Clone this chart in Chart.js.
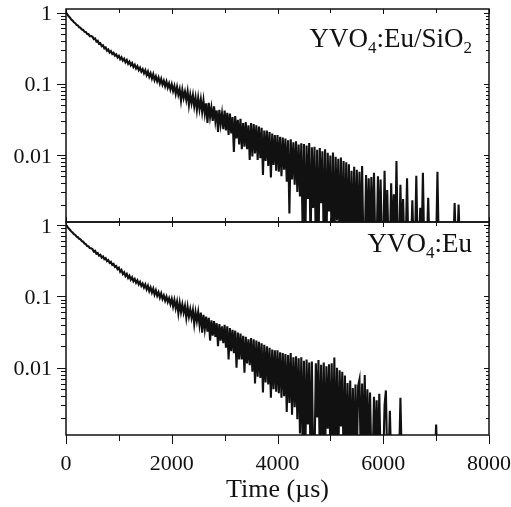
<!DOCTYPE html>
<html>
<head>
<meta charset="utf-8">
<script src="https://cdn.jsdelivr.net/npm/chart.js@4.4.1/dist/chart.umd.min.js"></script>
<style>
  html, body { margin: 0; padding: 0; background: #fff; }
  #wrap { position: relative; width: 511px; height: 507px; }
  #wrap canvas { position: absolute; left: 0; top: 0; }
</style>
</head>
<body>
<div id="wrap">
  <canvas id="topChart" width="511" height="507"></canvas>
  <canvas id="bottomChart" width="511" height="507"></canvas>
</div>
<script>
const sampleStepUs = 25;

// YVO4:Eu/SiO2, t = 0 ... 8000 µs, one row = 500 µs (5e-4 = at / below the axis floor)
const decaySiO2 = [
  1.00, 0.945, 0.885, 0.848, 0.795, 0.77, 0.728, 0.708, 0.67, 0.657, 0.62, 0.61, 0.575, 0.568, 0.535, 0.532, 0.498, 0.497, 0.466, 0.468,
  0.458, 0.423, 0.432, 0.392, 0.401, 0.364, 0.372, 0.337, 0.346, 0.313, 0.323, 0.291, 0.302, 0.274, 0.287, 0.261, 0.272, 0.247, 0.258, 0.234,
  0.247, 0.221, 0.235, 0.211, 0.224, 0.200, 0.215, 0.190, 0.204, 0.181, 0.195, 0.172, 0.185, 0.164, 0.177, 0.155, 0.168, 0.148, 0.160, 0.140,
  0.155, 0.132, 0.148, 0.125, 0.140, 0.118, 0.136, 0.112, 0.127, 0.108, 0.122, 0.101, 0.117, 0.097, 0.110, 0.092, 0.107, 0.088, 0.101, 0.083,
  0.098, 0.079, 0.093, 0.072, 0.090, 0.070, 0.084, 0.058, 0.082, 0.063, 0.077, 0.059, 0.078, 0.050, 0.070, 0.053, 0.069, 0.048, 0.064, 0.043,
  0.063, 0.044, 0.060, 0.040, 0.058, 0.038, 0.053, 0.028, 0.054, 0.034, 0.046, 0.030, 0.048, 0.030, 0.042, 0.021, 0.043, 0.027, 0.038, 0.023,
  0.042, 0.022, 0.039, 0.019, 0.038, 0.020, 0.034, 0.011, 0.035, 0.017, 0.031, 0.014, 0.032, 0.012, 0.028, 0.013, 0.029, 0.012, 0.026, 0.0085,
  0.028, 0.0095, 0.027, 0.0105, 0.026, 0.0085, 0.025, 0.0090, 0.024, 0.0052, 0.022, 0.0082, 0.022, 0.0070, 0.021, 0.0048, 0.020, 0.0072, 0.019, 0.0060,
  0.019, 0.0058, 0.018, 0.0050, 0.0175, 0.0062, 0.017, 0.0042, 0.016, 0.0015, 0.0165, 0.0045, 0.015, 0.0038, 0.0155, 0.0030, 0.014, 0.0026, 0.0145, 0.0009,
  0.0142, 5e-4, 0.0135, 0.0024, 0.0147, 5e-4, 0.0128, 0.0018, 0.0130, 5e-4, 0.0118, 5e-4, 0.0125, 0.0021, 0.0112, 5e-4, 0.0120, 5e-4, 0.0107, 0.0016,
  0.0098, 5e-4, 0.0108, 5e-4, 0.0094, 0.0012, 0.0088, 5e-4, 0.0092, 5e-4, 0.0082, 5e-4, 0.0079, 5e-4, 0.0074, 5e-4, 0.0060, 5e-4, 0.0068, 5e-4,
  0.0062, 5e-4, 0.0058, 5e-4, 0.0070, 5e-4, 5e-4, 0.0052, 5e-4, 0.0047, 5e-4, 0.0049, 5e-4, 0.0056, 5e-4, 5e-4, 0.0050, 5e-4, 0.0045, 5e-4,
  5e-4, 0.0060, 5e-4, 0.0032, 5e-4, 5e-4, 0.0040, 5e-4, 0.0028, 5e-4, 0.0082, 5e-4, 5e-4, 0.0038, 5e-4, 0.0024, 5e-4, 5e-4, 0.0047, 5e-4,
  5e-4, 5e-4, 0.0023, 5e-4, 5e-4, 0.0051, 5e-4, 5e-4, 0.0018, 5e-4, 0.0056, 5e-4, 5e-4, 5e-4, 0.0025, 5e-4, 5e-4, 5e-4, 5e-4, 5e-4,
  5e-4, 0.0058, 5e-4, 5e-4, 5e-4, 5e-4, 5e-4, 5e-4, 5e-4, 5e-4, 5e-4, 5e-4, 5e-4, 5e-4, 0.0021, 5e-4, 5e-4, 0.0020, 5e-4, 5e-4,
  5e-4, 5e-4, 5e-4, 5e-4, 5e-4, 5e-4, 5e-4, 5e-4, 5e-4, 5e-4, 5e-4, 5e-4, 5e-4, 5e-4, 5e-4, 5e-4, 5e-4, 5e-4, 5e-4, 5e-4,
  5e-4
];

// YVO4:Eu, t = 0 ... 8000 µs, one row = 500 µs
const decayBare = [
  1.00, 0.948, 0.892, 0.856, 0.809, 0.784, 0.743, 0.724, 0.686, 0.673, 0.639, 0.628, 0.594, 0.583, 0.549, 0.54, 0.507, 0.503, 0.474, 0.471,
  0.461, 0.424, 0.434, 0.395, 0.405, 0.372, 0.383, 0.350, 0.362, 0.331, 0.342, 0.312, 0.322, 0.294, 0.303, 0.275, 0.284, 0.258, 0.265, 0.240,
  0.251, 0.221, 0.234, 0.205, 0.217, 0.192, 0.206, 0.181, 0.194, 0.171, 0.185, 0.163, 0.175, 0.155, 0.167, 0.147, 0.159, 0.140, 0.151, 0.133,
  0.147, 0.125, 0.140, 0.118, 0.133, 0.113, 0.128, 0.106, 0.121, 0.102, 0.114, 0.096, 0.110, 0.092, 0.103, 0.087, 0.099, 0.083, 0.094, 0.078,
  0.092, 0.072, 0.089, 0.068, 0.084, 0.058, 0.081, 0.060, 0.077, 0.059, 0.073, 0.050, 0.071, 0.052, 0.066, 0.050, 0.064, 0.041, 0.060, 0.045,
  0.060, 0.040, 0.059, 0.031, 0.055, 0.035, 0.052, 0.032, 0.050, 0.024, 0.046, 0.028, 0.045, 0.027, 0.042, 0.020, 0.041, 0.024, 0.038, 0.022,
  0.040, 0.019, 0.038, 0.013, 0.036, 0.017, 0.034, 0.016, 0.033, 0.010, 0.031, 0.013, 0.030, 0.013, 0.028, 0.0085, 0.027, 0.0115, 0.025, 0.0108,
  0.026, 0.0088, 0.025, 0.0060, 0.024, 0.0075, 0.023, 0.0072, 0.022, 0.0045, 0.021, 0.0062, 0.020, 0.0058, 0.019, 0.0038, 0.018, 0.0050, 0.0175, 0.0046,
  0.0175, 0.0044, 0.0165, 0.0038, 0.016, 0.0040, 0.0155, 0.0024, 0.015, 0.0032, 0.0160, 0.0022, 0.014, 0.0028, 0.0145, 0.0019, 0.0135, 0.0012, 0.0140, 0.0008,
  0.0125, 5e-4, 0.0130, 0.0016, 0.0118, 5e-4, 0.0122, 5e-4, 5e-4, 0.0115, 0.0020, 0.0128, 5e-4, 0.0110, 5e-4, 0.0118, 5e-4, 0.0105, 0.0014, 0.0112,
  5e-4, 0.0115, 5e-4, 0.0139, 5e-4, 0.0100, 5e-4, 0.0092, 0.0015, 0.0088, 5e-4, 0.0078, 5e-4, 0.0061, 5e-4, 0.0066, 5e-4, 0.0052, 5e-4, 0.0058,
  5e-4, 0.0055, 0.0068, 5e-4, 0.0060, 5e-4, 0.0079, 5e-4, 0.0050, 5e-4, 0.0045, 5e-4, 5e-4, 0.0039, 5e-4, 0.0035, 5e-4, 0.0043, 5e-4, 5e-4,
  5e-4, 0.0030, 0.0048, 5e-4, 5e-4, 0.0025, 5e-4, 5e-4, 5e-4, 5e-4, 5e-4, 5e-4, 5e-4, 0.0038, 5e-4, 5e-4, 5e-4, 5e-4, 5e-4, 5e-4,
  5e-4, 5e-4, 5e-4, 5e-4, 5e-4, 5e-4, 5e-4, 5e-4, 5e-4, 5e-4, 5e-4, 5e-4, 5e-4, 5e-4, 5e-4, 5e-4, 5e-4, 5e-4, 5e-4, 5e-4,
  0.0016, 5e-4, 5e-4, 5e-4, 5e-4, 5e-4, 5e-4, 5e-4, 5e-4, 5e-4, 5e-4, 5e-4, 5e-4, 5e-4, 5e-4, 5e-4, 5e-4, 5e-4, 5e-4, 5e-4,
  5e-4, 5e-4, 5e-4, 5e-4, 5e-4, 5e-4, 5e-4, 5e-4, 5e-4, 5e-4, 5e-4, 5e-4, 5e-4, 5e-4, 5e-4, 5e-4, 5e-4, 5e-4, 5e-4, 5e-4,
  5e-4
];

const xTickValues = [0, 2000, 4000, 6000, 8000];
const xMinorTickValues = [1000, 3000, 5000, 7000];
const yTickValues = [0.01, 0.1, 1];
const yTickLabels = ["0.01", "0.1", "1"];
const yMinorMultiples = [2, 3, 4, 5, 6, 7, 8, 9];
const xAxisTitle = "Time (\u00b5s)";

// panel labels: [text, isSubscript]
const labelTop = [["YVO", false], ["4", true], [":Eu/SiO", false], ["2", true]];
const labelBottom = [["YVO", false], ["4", true], [":Eu", false]];

const serif = "'Liberation Serif', 'Times New Roman', serif";
const ink = "#111";

function toPoints(values) {
    return values.map(function (v, i) { return { x: i * sampleStepUs, y: v }; });
}

// frame, tick marks on all four sides and the sample label
const frameTicks = {
    id: "frameTicks",
    afterDatasetsDraw(chart, args, opts) {
        const ctx = chart.ctx;
        const a = chart.chartArea;
        const x = chart.scales.x;
        const y = chart.scales.y;
        ctx.save();
        ctx.strokeStyle = ink;
        ctx.lineWidth = 1;
        ctx.beginPath();
        const xTick = function (v, outLen, inLen) {
            const px = Math.round(x.getPixelForValue(v)) + 0.5;
            ctx.moveTo(px, a.top);
            ctx.lineTo(px, a.top + inLen);
            if (opts.bottomOut) {
                ctx.moveTo(px, a.bottom);
                ctx.lineTo(px, a.bottom + outLen);
            } else {
                ctx.moveTo(px, a.bottom);
                ctx.lineTo(px, a.bottom - inLen);
            }
        };
        xTickValues.forEach(function (v) { xTick(v, 9, 5); });
        xMinorTickValues.forEach(function (v) { xTick(v, 6, 4); });

        const yTick = function (v, outLen, inLen) {
            if (v < y.min || v > y.max) return;
            const py = Math.round(y.getPixelForValue(v)) + 0.5;
            ctx.moveTo(a.left - outLen, py);
            ctx.lineTo(a.left, py);
            ctx.moveTo(a.right - inLen, py);
            ctx.lineTo(a.right, py);
        };
        yTickValues.forEach(function (v) { yTick(v, 9, 5); });
        [0.001, 0.01, 0.1].forEach(function (d) {
            yMinorMultiples.forEach(function (m) { yTick(d * m, 5, 3); });
        });
        ctx.stroke();

        ctx.lineWidth = 1.5;
        ctx.strokeRect(a.left, a.top, a.right - a.left, a.bottom - a.top);

        // sample label, right aligned
        const mainFont = "27px " + serif;
        const subFont = "17px " + serif;
        let width = 0;
        opts.label.forEach(function (p) {
            ctx.font = p[1] ? subFont : mainFont;
            width += ctx.measureText(p[0]).width;
        });
        let cx = a.right - opts.labelRight - width;
        const base = a.top + opts.labelBaseline;
        ctx.fillStyle = ink;
        ctx.textBaseline = "alphabetic";
        ctx.textAlign = "left";
        opts.label.forEach(function (p) {
            ctx.font = p[1] ? subFont : mainFont;
            ctx.fillText(p[0], cx, p[1] ? base + 6 : base);
            cx += ctx.measureText(p[0]).width;
        });
        ctx.restore();
    }
};

function makeChart(canvasId, values, yMax, showX, padding, plotOpts) {
    const ctx = document.getElementById(canvasId).getContext("2d");
    return new Chart(ctx, {
        type: "line",
        data: {
            datasets: [{
                data: toPoints(values),
                borderColor: ink,
                borderWidth: 2.1,
                borderJoinStyle: "miter",
                pointRadius: 0,
                tension: 0,
                clip: 0
            }]
        },
        options: {
            responsive: false,
            animation: false,
            parsing: false,
            normalized: true,
            layout: { padding: padding },
            plugins: {
                legend: { display: false },
                tooltip: { enabled: false },
                frameTicks: plotOpts
            },
            scales: {
                x: {
                    type: "linear",
                    min: 0,
                    max: 8000,
                    afterBuildTicks: function (s) { s.ticks = xTickValues.map(function (v) { return { value: v }; }); },
                    afterFit: function (s) {
                        s.height = showX ? 72 : 0;
                        s.paddingLeft = 0;
                        s.paddingRight = 0;
                    },
                    grid: { display: false, drawTicks: false },
                    border: { display: false },
                    ticks: {
                        display: showX,
                        padding: 16,
                        maxRotation: 0,
                        autoSkip: false,
                        color: ink,
                        font: { family: serif, size: 22 },
                        callback: function (v) { return String(v); }
                    },
                    title: {
                        display: showX,
                        text: xAxisTitle,
                        color: ink,
                        font: { family: serif, size: 26 },
                        padding: { top: 0, bottom: 1 }
                    }
                },
                y: {
                    type: "logarithmic",
                    min: 0.00114,
                    max: yMax,
                    afterBuildTicks: function (s) { s.ticks = yTickValues.map(function (v) { return { value: v }; }); },
                    afterFit: function (s) {
                        s.width = 66;
                        s.paddingTop = 0;
                        s.paddingBottom = 0;
                    },
                    grid: { display: false, drawTicks: false },
                    border: { display: false },
                    ticks: {
                        padding: 14,
                        labelOffset: 2,
                        color: ink,
                        font: { family: serif, size: 22 },
                        callback: function (v) { return yTickLabels[yTickValues.indexOf(v)]; }
                    }
                }
            }
        },
        plugins: [frameTicks]
    });
}

makeChart("topChart", decaySiO2, 1.12, false,
    { top: 9, right: 22, bottom: 285, left: 0 },
    { bottomOut: false, label: labelTop, labelRight: 17, labelBaseline: 38 });

makeChart("bottomChart", decayBare, 1.1, true,
    { top: 222, right: 22, bottom: 0, left: 0 },
    { bottomOut: true, label: labelBottom, labelRight: 17, labelBaseline: 30 });
</script>
</body>
</html>
